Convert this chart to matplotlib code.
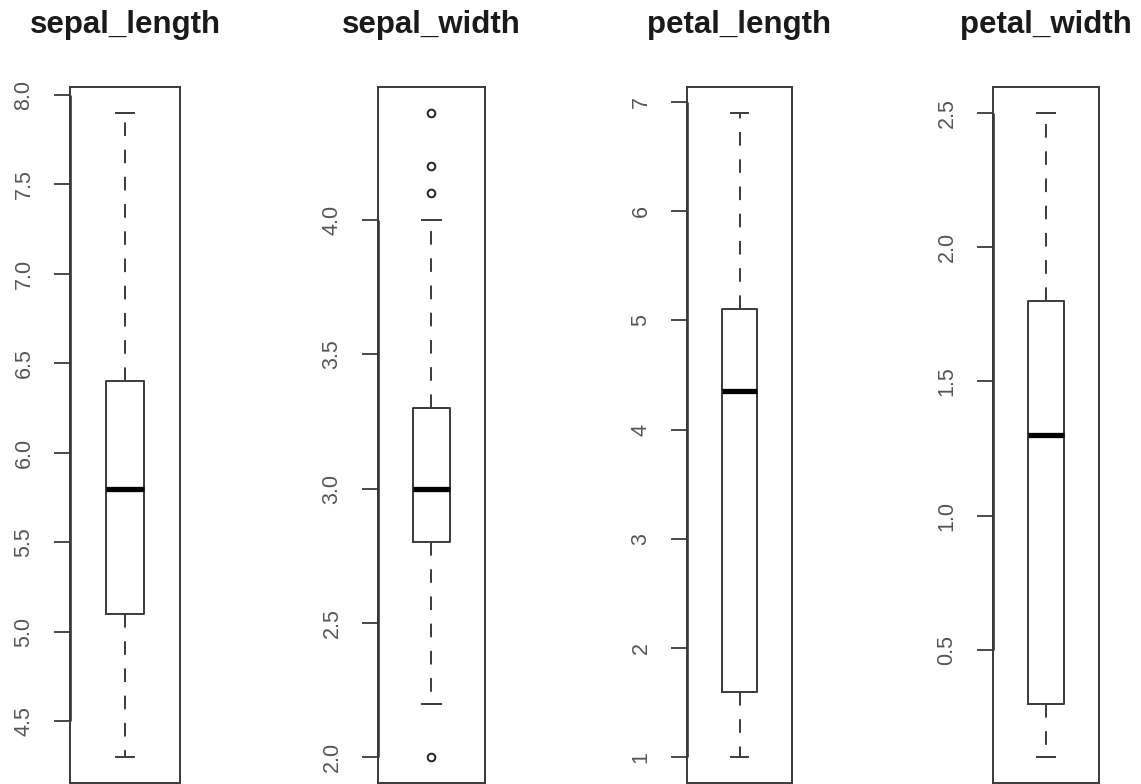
import matplotlib
matplotlib.use("Agg")
import matplotlib.pyplot as plt

plt.rcParams['font.family'] = ['Liberation Sans', 'DejaVu Sans']

# iris summary (R boxplot stats: whisker lo, Q1, median, Q3, whisker hi)
names = ['sepal_length', 'sepal_width', 'petal_length', 'petal_width']
whislo = [4.3, 2.2, 1.0, 0.1]
q1 = [5.1, 2.8, 1.6, 0.3]
med = [5.8, 3.0, 4.35, 1.3]
q3 = [6.4, 3.3, 5.1, 1.8]
whishi = [7.9, 4.0, 6.9, 2.5]
fliers = [[], [4.4, 4.1, 4.2, 2.0], [], []]
data_min = [4.3, 2.0, 1.0, 0.1]
data_max = [7.9, 4.4, 6.9, 2.5]
yticks = [[4.5, 5.0, 5.5, 6.0, 6.5, 7.0, 7.5, 8.0],
          [2.0, 2.5, 3.0, 3.5, 4.0],
          [1, 2, 3, 4, 5, 6, 7],
          [0.5, 1.0, 1.5, 2.0, 2.5]]
ytick_labels = [['4.5', '5.0', '5.5', '6.0', '6.5', '7.0', '7.5', '8.0'],
                ['2.0', '2.5', '3.0', '3.5', '4.0'],
                ['1', '2', '3', '4', '5', '6', '7'],
                ['0.5', '1.0', '1.5', '2.0', '2.5']]

W, H = 1141, 784
fig = plt.figure(figsize=(W / 100, H / 100), dpi=100)

# panel frames in pixels (left, right)
lefts = [70, 378, 687, 993]
rights = [180, 485, 792, 1099]
top_px, bot_px = 87, 783

line_col = '#3a3a3a'
for i in range(4):
    ax = fig.add_axes([lefts[i] / W, (H - bot_px) / H,
                       (rights[i] - lefts[i]) / W, (bot_px - top_px) / H])
    stats = [dict(whislo=whislo[i], q1=q1[i], med=med[i], q3=q3[i],
                  whishi=whishi[i], fliers=fliers[i])]
    ax.bxp(stats, positions=[1], widths=0.37, showfliers=True,
           boxprops=dict(color=line_col, lw=1.4),
           whiskerprops=dict(color=line_col, lw=1.4, linestyle=(0, (7, 7))),
           capprops=dict(color=line_col, lw=1.4),
           medianprops=dict(color='black', lw=3.8, solid_capstyle='butt'),
           flierprops=dict(marker='o', markersize=5.5, markerfacecolor='none',
                           markeredgecolor='#222222', markeredgewidth=1.4))
    rng = data_max[i] - data_min[i]
    ax.set_ylim(data_min[i] - 0.04 * rng, data_max[i] + 0.04 * rng)
    ax.set_xlim(0.46, 1.54)
    ax.set_xticks([])
    ax.set_yticks(yticks[i])
    ax.set_yticklabels(ytick_labels[i], rotation=90, va='center',
                       fontsize=15.5, color='#555555')
    ax.tick_params(axis='y', length=11.5, width=1.3, color=line_col, pad=14)
    for s in ax.spines.values():
        s.set_color(line_col)
        s.set_linewidth(1.4)
    # R axis line from first to last tick
    ax.plot([0.46, 0.46], [yticks[i][0], yticks[i][-1]], color='#222222',
            lw=1.8, clip_on=False, solid_capstyle='butt')
    fig.text((lefts[i] + rights[i]) / 2 / W, 1 - 33 / H, names[i],
             ha='center', va='baseline', fontsize=22.5, fontweight='bold',
             color='#1a1a1a')

fig.savefig('out.png', dpi=100, facecolor='white')
